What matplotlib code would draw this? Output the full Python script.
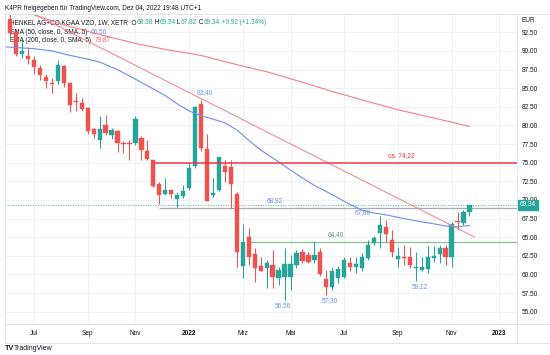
import matplotlib
matplotlib.use("Agg")
import matplotlib.pyplot as plt
import matplotlib.dates as mdates
from matplotlib.lines import Line2D
import numpy as np
import pandas as pd

plt.rcParams["font.family"] = ["Liberation Sans", "DejaVu Sans"]

# ---- data: weekly candles, first bar = week of 2021-06-07 ----
FIRST_WEEK = "2021-06-07"

opens = [94.3, 92.6, 89.6, 89.3, 88.8, 87.7, 86.5, 85.75, 85.9, 88.0,
         85.65, 83.3, 82.97, 82.3, 79.48, 78.0, 80.06, 78.7, 79.25, 77.7,
         77.65, 77.6, 78.3, 76.6, 75.3, 72.2, 70.8, 71.3, 70.1, 70.5,
         71.6, 74.55, 82.9, 76.8, 70.6, 71.4, 74.55, 74.4, 70.8, 61.1,
         65.0, 62.8, 61.1, 60.8, 61.3, 59.5, 59.6, 59.6, 61.3, 63.05,
         62.6, 62.0, 63.05, 59.35, 58.35, 59.5, 59.7, 61.5, 61.05, 60.9,
         62.2, 64.25, 65.5, 66.4, 64.6, 62.05, 62.35, 62.4, 60.8, 60.6,
         60.7, 62.2, 62.75, 63.5, 62.3, 67.2, 66.95, 68.38]
highs = [95.0, 93.0, 91.4, 90.5, 89.3, 88.1, 86.9, 86.3, 88.8, 88.1,
         85.87, 84.3, 83.64, 82.5, 79.6, 81.3, 81.4, 79.6, 79.4, 77.9,
         78.0, 81.3, 78.6, 78.1, 75.4, 72.45, 73.0, 71.4, 71.1, 72.0,
         74.9, 82.6, 83.4, 78.9, 72.9, 75.8, 75.4, 75.4, 71.0, 66.8,
         66.3, 63.5, 62.4, 61.9, 63.3, 61.0, 63.5, 62.6, 63.3, 63.4,
         63.05, 64.5, 63.6, 60.6, 60.9, 61.1, 62.3, 62.4, 62.4, 62.9,
         64.6, 65.1, 67.88, 67.3, 66.0, 63.7, 64.0, 63.7, 63.0, 62.3,
         63.8, 63.8, 64.0, 64.0, 67.1, 68.4, 68.7, 69.34]
lows = [91.9, 89.3, 89.0, 88.3, 86.9, 86.1, 85.0, 84.4, 85.6, 85.1,
        81.84, 81.9, 82.0, 78.9, 78.3, 77.0, 78.7, 78.2, 76.5, 76.3,
        75.4, 77.4, 75.4, 75.4, 71.7, 69.45, 70.6, 70.3, 69.1, 70.3,
        71.4, 74.3, 76.6, 69.8, 70.4, 71.2, 72.45, 68.92, 61.0, 59.5,
        61.3, 59.0, 60.4, 58.2, 58.2, 58.6, 56.56, 57.9, 60.8, 61.5,
        61.5, 61.6, 59.8, 57.3, 57.9, 58.8, 59.5, 60.4, 60.15, 60.4,
        61.9, 63.9, 63.5, 64.3, 62.3, 61.0, 61.3, 60.8, 59.12, 60.4,
        60.2, 61.7, 61.6, 61.3, 60.95, 65.95, 66.6, 67.82]
closes = [92.4, 89.6, 89.95, 88.9, 87.9, 86.8, 86.0, 85.6, 88.1, 85.75,
          82.74, 83.1, 82.16, 79.25, 78.85, 79.5, 78.94, 79.4, 77.7, 77.5,
          77.5, 80.85, 76.7, 75.45, 71.9, 70.7, 71.3, 70.75, 70.7, 71.2,
          74.25, 82.45, 77.0, 69.9, 70.9, 75.7, 73.8, 72.1, 63.05, 64.4,
          62.3, 60.9, 60.5, 61.6, 59.6, 60.6, 61.4, 61.4, 62.9, 61.85,
          61.7, 62.6, 60.1, 58.35, 60.5, 60.7, 62.0, 61.05, 61.4, 62.35,
          63.95, 64.85, 66.65, 65.4, 63.05, 62.5, 62.25, 61.3, 61.0, 60.95,
          62.3, 62.5, 63.6, 62.4, 66.8, 67.1, 68.4, 69.34]

# moving averages (bar number, value)
ema50_bar = [0, 5, 8, 11, 14, 16, 19, 22, 25, 27, 29, 31, 33, 35, 37, 39, 41, 43,
             46, 48, 50, 52, 55, 57, 60, 62, 64, 67, 70, 72, 74, 76, 78]
ema50_val = [90.55, 90.3, 90.0, 89.4, 88.9, 88.5, 87.5, 86.2, 84.9, 84.0, 82.9, 81.95,
             81.3, 80.85, 80.35, 79.4, 78.0, 76.7, 75.1, 74.0, 72.95, 71.95, 70.7, 69.8,
             68.6, 68.25, 68.0, 67.5, 67.05, 66.8, 66.5, 66.43, 66.56]
ema200_bar = [1, 4, 10, 16, 22, 27, 33, 38, 44, 50, 55, 61, 66, 72, 78]
ema200_val = [95.9, 95.1, 93.5, 92.2, 91.0, 90.2, 89.4, 88.35, 87.2, 85.8, 84.55,
              83.2, 82.1, 81.0, 79.87]

# drawings
trend_bar = [1, 78.9]
trend_val = [96.57, 65.0]
level_val = [75.0, 68.92, 64.40]
level_from_bar = [25, 26, 41]

y_ticks = np.arange(55, 92.51, 2.5)
month_names = {3: "Mrz", 5: "Mai", 7: "Jul", 9: "Sep", 11: "Nov"}
tick_months = [(2021, 7), (2021, 9), (2021, 11), (2022, 1), (2022, 3),
               (2022, 5), (2022, 7), (2022, 9), (2022, 11), (2023, 1)]

UP = "#26a69a"
DOWN = "#ef5350"
TXT = "#131722"
BLUE = "#6a8ff0"
GRID = "#f0f2f6"
BORDER = "#e0e3eb"

t0 = mdates.date2num(pd.Timestamp(FIRST_WEEK))


def bx(b):
    return t0 + 7 * (np.asarray(b, dtype=float) - 1)


W, H = 550, 355
fig = plt.figure(figsize=(5.5, 3.55), dpi=100)
ax = fig.add_axes([5 / W, (H - 324) / H, 512 / W, 310.5 / H])

# grid
for yv in y_ticks:
    ax.axhline(yv, color=GRID, lw=0.7, zorder=0)
all_weeks = pd.date_range(FIRST_WEEK, "2023-02-28", freq="7D")
tick_dates = []
for yr, mo in tick_months:
    sel = all_weeks[(all_weeks.year == yr) & (all_weeks.month == mo)]
    tick_dates.append(sel[0])
tick_x = mdates.date2num(tick_dates)
for tx in tick_x:
    ax.axvline(tx, color=GRID, lw=0.7, zorder=0)

# candles
xs = bx(np.arange(1, len(opens) + 1))
o = np.array(opens); h = np.array(highs); l = np.array(lows); c = np.array(closes)
cols = [UP if cc >= oo else DOWN for oo, cc in zip(o, c)]
ax.vlines(xs, l, h, colors=cols, lw=0.75, zorder=3)
bot = np.minimum(o, c)
hgt = np.maximum(np.abs(c - o), 0.09)
ax.bar(xs, hgt, bottom=bot, width=5.0, color=cols, edgecolor=cols, lw=0.3, zorder=4)

# moving averages
ax.plot(bx(ema50_bar), ema50_val, color=BLUE, lw=0.8, zorder=5)
ax.plot(bx(ema200_bar), ema200_val, color="#f47f85", lw=0.8, zorder=5)

# trend line
ax.plot(bx(trend_bar), trend_val, color="#f7868a", lw=0.75, zorder=5)

# horizontal rays
xr = bx(86.5)
ax.hlines(level_val[0], bx(level_from_bar[0]), xr, color="#f23645", lw=1.1, zorder=6)
ax.hlines(level_val[1], bx(level_from_bar[1]), xr, color="#a8abb4", lw=0.9, zorder=2)
ax.hlines(level_val[2], bx(level_from_bar[2]), xr, color="#8cbf8e", lw=0.9, zorder=2)
# last price line
ax.axhline(closes[-1], color=UP, lw=0.6, ls=(0, (1.5, 1.5)), alpha=0.8, zorder=2)

fs = 4.7
# level labels
ax.annotate("ca. 74,22", (bx(66.5), level_val[0]), xytext=(0, 5), textcoords="offset points",
            ha="center", va="center", color="#f23645", fontsize=fs)
ax.annotate("68,92", (bx(45.4), level_val[1]), xytext=(0, 5), textcoords="offset points",
            ha="center", va="center", color=BLUE, fontsize=fs)
ax.annotate("64,40", (bx(55.5), level_val[2]), xytext=(0, 4.8), textcoords="offset points",
            ha="center", va="center", color="#5f9c62", fontsize=fs)
# high / low labels
ax.annotate("83,40", (bx(33), highs[32]), xytext=(3, 5.5), textcoords="offset points",
            ha="center", va="center", color=BLUE, fontsize=fs)
ax.annotate("67,88", (bx(63), highs[62]), xytext=(-12.5, 2.3), textcoords="offset points",
            ha="center", va="center", color=BLUE, fontsize=fs)
ax.annotate("56,56", (bx(47), lows[46]), xytext=(-1, -4.2), textcoords="offset points",
            ha="center", va="center", color=BLUE, fontsize=fs)
ax.annotate("57,30", (bx(54), lows[53]), xytext=(2.7, -4.5), textcoords="offset points",
            ha="center", va="center", color=BLUE, fontsize=fs)
ax.annotate("59,12", (bx(69), lows[68]), xytext=(3, -4), textcoords="offset points",
            ha="center", va="center", color=BLUE, fontsize=fs)

ax.set_xlim(bx(0.134), bx(85.97))
ax.set_ylim(53.35, 95.02)

# axes / ticks
ax.yaxis.tick_right()
ax.set_yticks(y_ticks)
ax.set_yticklabels([f"{v:.2f}" for v in y_ticks])
ax.set_xticks(tick_x)
ax.set_xticklabels([str(d.year) if d.month == 1 else month_names[d.month] for d in tick_dates])
for lab, d in zip(ax.get_xticklabels(), tick_dates):
    if d.month == 1:
        lab.set_fontweight("bold")
ax.tick_params(axis="both", length=0, labelsize=fs, colors=TXT)
ax.tick_params(axis="y", pad=3.2)
ax.tick_params(axis="x", pad=4.5)
for s in ax.spines.values():
    s.set_visible(False)

# last price tag
ax.annotate(f"{closes[-1]:.2f}", (1.0, closes[-1]), xycoords=("axes fraction", "data"),
            xytext=(2.2, 0), textcoords="offset points", ha="left", va="center",
            color="white", fontsize=fs,
            bbox=dict(boxstyle="square,pad=0.25", fc=UP, ec=UP))

# frame lines
fig.add_artist(Line2D([5 / W, 549.5 / W], [1 - 13.5 / H] * 2, color=BORDER, lw=0.7))
fig.add_artist(Line2D([5 / W, 549.5 / W], [1 - 324 / H] * 2, color=BORDER, lw=0.7))
fig.add_artist(Line2D([5 / W, 549.5 / W], [1 - 343 / H] * 2, color=BORDER, lw=0.7))
fig.add_artist(Line2D([517 / W] * 2, [1 - 13.5 / H, 1 - 343 / H], color=BORDER, lw=0.7))
fig.add_artist(Line2D([5 / W] * 2, [1 - 13.5 / H, 1 - 343 / H], color=BORDER, lw=0.7))
fig.add_artist(Line2D([549.5 / W] * 2, [1 - 13.5 / H, 1 - 343 / H], color=BORDER, lw=0.7))

# header and legend
fig.text(5 / W, 1 - 8.5 / H, "K4PR freigegeben für TradingView.com, Dez 04, 2022 19:48 UTC+1",
         fontsize=fs, color=TXT, va="center")
fig.text(521 / W, 1 - 20 / H, "EUR", fontsize=fs, color=TXT, va="center")


def chain(x_px, y_px, parts):
    t = ax.annotate(parts[0][0], (x_px, H - y_px), xycoords="figure pixels",
                    ha="left", va="center", color=parts[0][1], fontsize=fs)
    for s, col in parts[1:]:
        t = ax.annotate(s, (1, 0), xycoords=t, ha="left", va="bottom", color=col, fontsize=fs)


chain(10, 23, [("HENKEL AG+CO.KGAA VZO, 1W, XETR  O", TXT), ("68.38", UP), (" H", TXT),
               ("69.34", UP), (" L", TXT), ("67.82", UP), (" C", TXT), ("69.34", UP),
               (" +0.92 (+1.34%)", UP)])
chain(10, 32, [("EMA (50, close, 0, SMA, 5)  ", TXT), ("66.56", BLUE)])
chain(10, 41, [("EMA (200, close, 0, SMA, 5)  ", TXT), ("79.87", "#f0616c")])

# footer logo
fig.text(5 / W, 1 - 348 / H, "TV", fontsize=5.2, fontweight="bold", color=TXT, va="center")
fig.text(14 / W, 1 - 348 / H, "TradingView", fontsize=5.0, color=TXT, va="center")

fig.savefig("out.png", dpi=100)
